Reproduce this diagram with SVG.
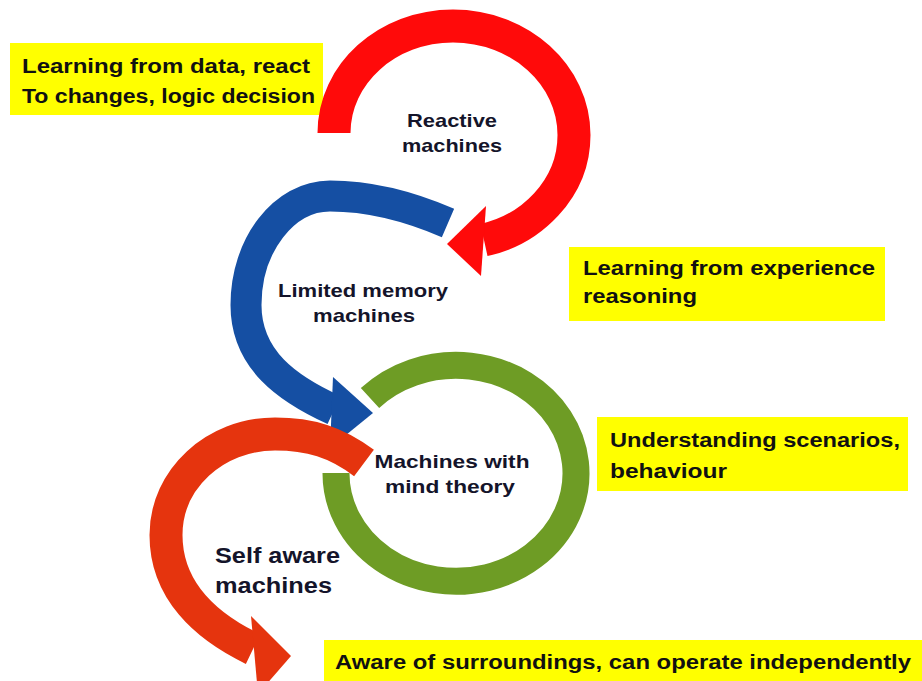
<svg xmlns="http://www.w3.org/2000/svg" width="922" height="681" viewBox="0 0 922 681">
<style>
.box{fill:#ffff00}
.bt{font-family:"Liberation Sans",Arial,sans-serif;font-size:20px;font-weight:bold;fill:#111111}
.lbl{font-family:"Liberation Sans",Arial,sans-serif;font-size:19px;font-weight:bold;fill:#14142a}
.ring{fill:none;stroke-linecap:butt}
</style>
<rect width="922" height="681" fill="#ffffff"/>
<g id="note-reactive">
<rect class="box" x="10" y="43" width="313" height="72"/>
<text class="bt" x="22" y="73" textLength="288" lengthAdjust="spacingAndGlyphs">Learning from data, react</text>
<text class="bt" x="22" y="103" textLength="293" lengthAdjust="spacingAndGlyphs">To changes, logic decision</text>
</g>
<g id="note-limited">
<rect class="box" x="569" y="247" width="316" height="74"/>
<text class="bt" x="583" y="275" textLength="292" lengthAdjust="spacingAndGlyphs">Learning from experience</text>
<text class="bt" x="583" y="303" textLength="114" lengthAdjust="spacingAndGlyphs">reasoning</text>
</g>
<g id="note-mind">
<rect class="box" x="597" y="417" width="311" height="74"/>
<text class="bt" x="610" y="447" textLength="290" lengthAdjust="spacingAndGlyphs">Understanding scenarios,</text>
<text class="bt" x="610" y="478" textLength="117" lengthAdjust="spacingAndGlyphs">behaviour</text>
</g>
<g id="note-self">
<rect class="box" x="324" y="640" width="598" height="41"/>
<text class="bt" x="335" y="669" textLength="576" lengthAdjust="spacingAndGlyphs">Aware of surroundings, can operate independently</text>
</g>
<g id="node-reactive">
<path class="ring" stroke="#ff0a0a" stroke-width="33" d="M334,133 C334,74 387,26 453,26 C520,26 574,75 574,135 C574,190 530,230 484,240"/>
<polygon fill="#ff0a0a" points="486,206 447,244 481,276"/>
<text class="lbl" x="452" y="127" text-anchor="middle" textLength="90" lengthAdjust="spacingAndGlyphs">Reactive</text>
<text class="lbl" x="452" y="152" text-anchor="middle" textLength="100" lengthAdjust="spacingAndGlyphs">machines</text>
</g>
<g id="node-limited">
<path class="ring" stroke="#154fa3" stroke-width="31" d="M448,223 C411,207 370,196 330,196 C284,196 246,245 246,305 C246,360 288,389 334,410"/>
<polygon fill="#154fa3" points="333,377 373,413 330,448"/>
<text class="lbl" x="363" y="297" text-anchor="middle" textLength="170" lengthAdjust="spacingAndGlyphs">Limited memory</text>
<text class="lbl" x="364" y="322" text-anchor="middle" textLength="102" lengthAdjust="spacingAndGlyphs">machines</text>
</g>
<g id="node-mind">
<path class="ring" stroke="#6e9c25" stroke-width="27" d="M370,398 A120,108 0 1 1 336,473"/>
<text class="lbl" x="452" y="468" text-anchor="middle" textLength="155" lengthAdjust="spacingAndGlyphs">Machines with</text>
<text class="lbl" x="450" y="493" text-anchor="middle" textLength="130" lengthAdjust="spacingAndGlyphs">mind theory</text>
</g>
<g id="node-self">
<path class="ring" stroke="#e5340e" stroke-width="33" d="M364,463 C336,442 310,434 275,434 C215,434 166,479 166,535 C166,590 205,626 253,649"/>
<polygon fill="#e5340e" points="251,616 291,656 258,694"/>
<text class="lbl" x="215" y="563" style="font-size:22px" textLength="125" lengthAdjust="spacingAndGlyphs">Self aware</text>
<text class="lbl" x="215" y="593" style="font-size:22px" textLength="117" lengthAdjust="spacingAndGlyphs">machines</text>
</g>
<g id="connectors"></g>
</svg>
